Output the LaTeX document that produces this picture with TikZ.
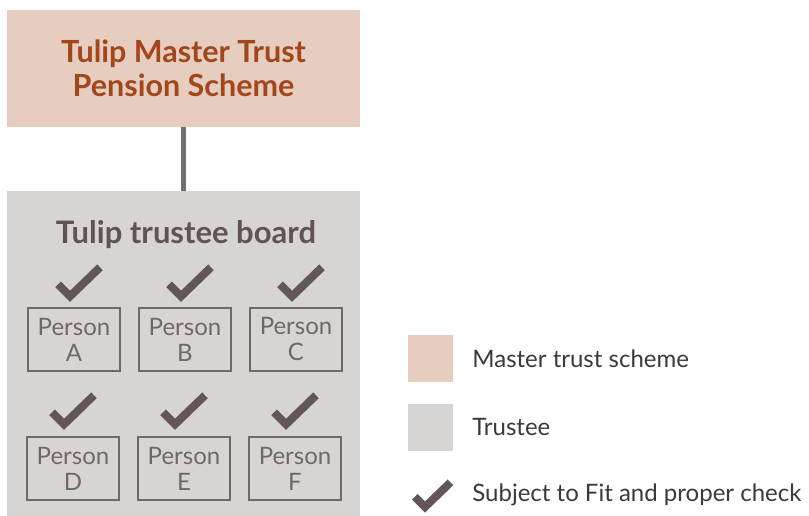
\documentclass[tikz,border=0pt]{standalone}
\usepackage{fontspec}
\setmainfont{Lato}
\usetikzlibrary{positioning}

\definecolor{schemeFill}{HTML}{E6CDBF}
\definecolor{schemeText}{HTML}{A2461B}
\definecolor{boardFill}{HTML}{D7D5D3}
\definecolor{boardText}{HTML}{5F5454}
\definecolor{tickColor}{HTML}{625658}
\definecolor{personLine}{HTML}{716866}
\definecolor{linkColor}{HTML}{707074}
\definecolor{keyText}{HTML}{3A3A3A}

\tikzset{
  person/.style={draw=personLine, line width=1.4pt, minimum width=92, minimum height=63,
    inner sep=0pt, align=center, text=personLine,
    font=\fontsize{24}{26}\selectfont},
  keybox/.style={minimum width=45, minimum height=47, inner sep=0pt},
  keytext/.style={right=19 of #1, anchor=west, inner sep=0pt, text=keyText,
    font=\fontsize{24}{26}\selectfont},
  tickline/.style={draw=tickColor, line width=8pt}
}

\begin{document}
\begin{tikzpicture}[x=1pt,y=1pt]

\newcommand{\drawTick}[4]{%node,dx,dy,scale
  \begin{scope}[shift={(#1)}, shift={(#2,#3)}, scale=#4]
    \draw[tickline] (-12,12) -- (0,0) -- (30,29);
  \end{scope}
}

\useasboundingbox (0,0) rectangle (809,516);

% scheme and board
\node[fill=schemeFill, minimum width=353, minimum height=117, inner sep=0pt,
  align=center, text=schemeText, font=\fontsize{30.5}{34}\selectfont\bfseries]
  (scheme) at (183.5,447.5) {Tulip Master Trust\\Pension Scheme};
\node[fill=boardFill, minimum width=353, minimum height=325, inner sep=0pt]
  (board) at (183.5,162.5) {};
\draw[linkColor, line width=5pt] (scheme.south) -- (board.north);
\node[text=boardText, font=\fontsize{31}{34}\selectfont\bfseries]
  (boardTitle) at (186,281) {Tulip trustee board};

% persons
\node[person] (pA) at (74,176.5) {Person\\A};
\node[person] (pB) at (185,176.5) {Person\\B};
\node[person] (pC) at (296,176.5) {Person\\C};
\node[person] (pD) at (73,47.5) {Person\\D};
\node[person] (pE) at (184,47.5) {Person\\E};
\node[person] (pF) at (295,47.5) {Person\\F};

\foreach \p in {pA,pB,pC}
  {
  \drawTick{\p.north}{-4}{11}{1}
  }
\foreach \p in {pD,pE,pF}
  {
  \drawTick{\p.north}{-9}{12}{1}
  }

% key
\node[keybox, fill=schemeFill] (keyScheme) at (430.5,157.5) {};
\node[keybox, fill=boardFill] (keyTrustee) at (430.5,88.5) {};
\node[keybox] (keyCheck) at (430.5,21) {};
\node[keytext=keyScheme] (keySchemeText) {Master trust scheme};
\node[keytext=keyTrustee] (keyTrusteeText) {Trustee};
\node[keytext=keyCheck] (keyCheckText) {Subject to Fit and proper check};
\drawTick{keyCheck.center}{-5.5}{-12}{0.85}

\end{tikzpicture}
\end{document}
